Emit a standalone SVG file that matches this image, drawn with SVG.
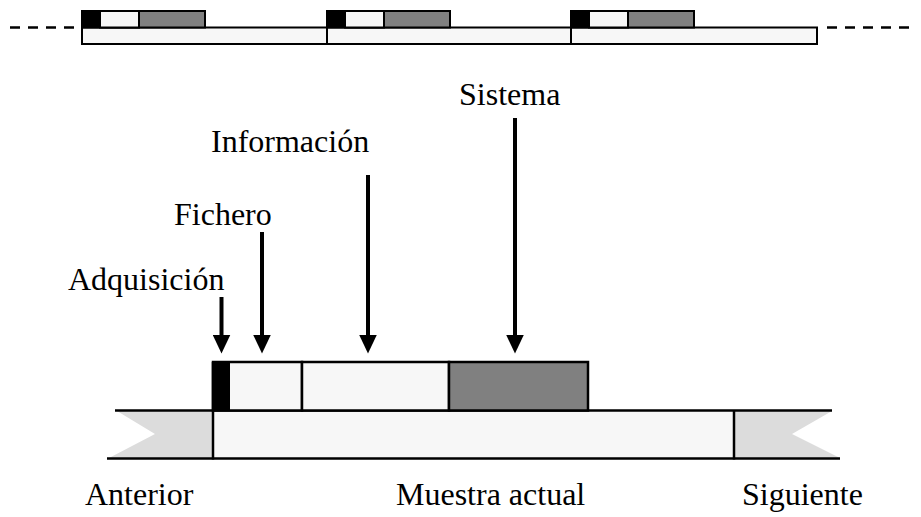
<svg xmlns="http://www.w3.org/2000/svg" width="921" height="517" viewBox="0 0 921 517">
  <style>
    .ol { stroke: #000; stroke-width: 2.5; }
    .thin { stroke: #000; stroke-width: 2; }
    .blk { fill: #000; }
    .lt { fill: #f7f7f7; }
    .gr { fill: #808080; }
    .pale { fill: #dcdcdc; }
    .dash { stroke: #000; stroke-width: 2.5; stroke-dasharray: 10 8; fill: none; }
    .lbl { font-family: "Liberation Serif", "Times New Roman", serif; font-size: 32px; fill: #000; }
    .shaft { stroke: #000; stroke-width: 4; }
  </style>
  <defs>
    <!-- arrowhead: base sits on the end of the shaft -->
    <marker id="head" viewBox="0 0 19 18" refX="0.5" refY="9" markerWidth="19" markerHeight="18" markerUnits="userSpaceOnUse" orient="auto">
      <path d="M0 0 L19 9 L0 18 Z" fill="#000"/>
    </marker>
  </defs>

  <!-- top timeline strip -->
  <g id="strip">
    <line class="dash" x1="10" y1="27.5" x2="80" y2="27.5"/>
    <line class="dash" x1="827" y1="27.5" x2="915" y2="27.5"/>
    <rect class="lt thin" x="82" y="27.5" width="735" height="16.5"/>
    <line class="thin" x1="327" y1="27.5" x2="327" y2="44"/>
    <line class="thin" x1="571" y1="27.5" x2="571" y2="44"/>
    <g id="strip-s1">
      <rect class="gr thin" x="82" y="11" width="123" height="16.5"/>
      <rect class="lt thin" x="100" y="11" width="39" height="16.5"/>
      <rect class="blk" x="82" y="11" width="18" height="16.5"/>
    </g>
    <g id="strip-s2">
      <rect class="gr thin" x="327" y="11" width="123" height="16.5"/>
      <rect class="lt thin" x="345" y="11" width="39" height="16.5"/>
      <rect class="blk" x="327" y="11" width="18" height="16.5"/>
    </g>
    <g id="strip-s3">
      <rect class="gr thin" x="571" y="11" width="123" height="16.5"/>
      <rect class="lt thin" x="589" y="11" width="39" height="16.5"/>
      <rect class="blk" x="571" y="11" width="18" height="16.5"/>
    </g>
  </g>

  <!-- enlarged sample -->
  <g id="prev">
    <polygon class="pale" points="117,411 213,411 213,458 109,458 155,434"/>
  </g>
  <g id="next">
    <polygon class="pale" points="734,411 832,411 792,434 840,458 734,458"/>
  </g>
  <g id="current">
    <rect class="lt" x="213" y="411" width="521" height="47"/>
    <line class="ol" x1="115" y1="410.5" x2="832" y2="410.5"/>
    <line class="ol" x1="107" y1="458.5" x2="840" y2="458.5"/>
    <line class="ol" x1="213" y1="362" x2="213" y2="459.5"/>
    <line class="ol" x1="734" y1="410" x2="734" y2="459.5"/>
  </g>
  <g id="blocks">
    <rect class="lt ol" x="213" y="362" width="89" height="48.5"/>
    <rect class="lt ol" x="302" y="362" width="147" height="48.5"/>
    <rect class="gr ol" x="449" y="362" width="139" height="48.5"/>
    <rect class="blk" x="213" y="362" width="17" height="48.5"/>
  </g>

  <!-- pointers -->
  <g id="connectors">
    <line class="shaft" x1="221.5" y1="297" x2="221.5" y2="335" marker-end="url(#head)"/>
    <line class="shaft" x1="262" y1="232" x2="262" y2="335" marker-end="url(#head)"/>
    <line class="shaft" x1="368" y1="175" x2="368" y2="335" marker-end="url(#head)"/>
    <line class="shaft" x1="515" y1="118" x2="515" y2="335" marker-end="url(#head)"/>
  </g>

  <g id="labels">
    <text class="lbl" x="459" y="105">Sistema</text>
    <text class="lbl" x="211" y="152">Información</text>
    <text class="lbl" x="174" y="225">Fichero</text>
    <text class="lbl" x="68" y="290">Adquisición</text>
    <text class="lbl" x="85" y="505">Anterior</text>
    <text class="lbl" x="396" y="505">Muestra actual</text>
    <text class="lbl" x="742" y="505">Siguiente</text>
  </g>
</svg>
